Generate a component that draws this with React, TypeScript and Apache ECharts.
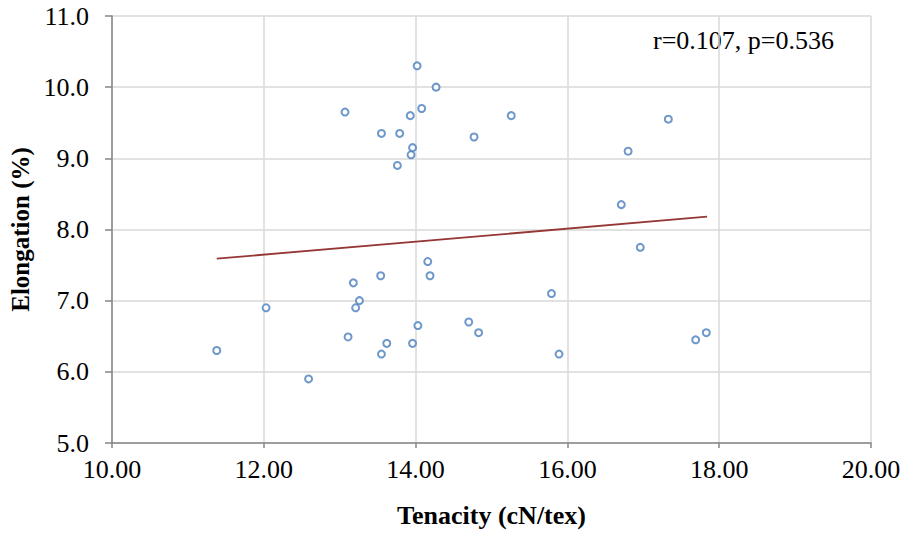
import React, { useEffect, useRef } from "react";
import * as echarts from "echarts";

const tenacity = [11.38, 12.03, 12.59, 13.07, 13.11, 13.18, 13.21, 13.26, 13.55, 13.54, 13.55, 13.62, 13.76, 13.79, 13.93, 13.94, 13.96, 13.96, 14.02, 14.03, 14.08, 14.16, 14.19, 14.27, 14.7, 14.77, 14.83, 15.26, 15.79, 15.89, 16.71, 16.8, 16.96, 17.33, 17.69, 17.83];
const elongation = [6.3, 6.9, 5.9, 9.65, 6.49, 7.25, 6.9, 7.0, 9.35, 7.35, 6.25, 6.4, 8.9, 9.35, 9.6, 9.05, 9.15, 6.4, 10.3, 6.65, 9.7, 7.55, 7.35, 10.0, 6.7, 9.3, 6.55, 9.6, 7.1, 6.25, 8.35, 9.1, 7.75, 9.55, 6.45, 6.55];
const trendX = [11.38, 17.84];
const trendY = [7.59, 8.18];
const annotation = "r=0.107, p=0.536";
const xTitle = "Tenacity (cN/tex)";
const yTitle = "Elongation (%)";

const FONT = '"Liberation Serif", "Times New Roman", serif';

export default function App() {
  const ref = useRef<HTMLDivElement>(null);
  useEffect(() => {
    if (!ref.current) return;
    const chart = echarts.init(ref.current, null, { renderer: "svg" });
    const points = tenacity.map((x, i) => [x, elongation[i]]);
    const trend = trendX.map((x, i) => [x, trendY[i]]);
    chart.setOption({
      animation: false,
      backgroundColor: "#ffffff",
      grid: { left: 112, right: 35, top: 16, bottom: 91, containLabel: false, outerBoundsMode: "none" },
      xAxis: {
        type: "value",
        min: 10,
        max: 20,
        interval: 2,
        name: xTitle,
        nameLocation: "middle",
        nameGap: 59,
        nameTextStyle: { fontFamily: FONT, fontSize: 26, fontWeight: "bold", color: "#000" },
        axisLine: { show: true, lineStyle: { color: "#868686", width: 1.5 } },
        axisTick: { show: true, inside: false, length: 5, lineStyle: { color: "#868686", width: 1.5 } },
        axisLabel: {
          fontFamily: FONT,
          fontSize: 26,
          color: "#000",
          margin: 13,
          formatter: (v: number) => v.toFixed(2),
        },
        splitLine: { show: true, lineStyle: { color: "#d9d9d9", width: 1.5 } },
      },
      yAxis: {
        type: "value",
        min: 5,
        max: 11,
        interval: 1,
        name: yTitle,
        nameLocation: "middle",
        nameGap: 77,
        nameRotate: 90,
        nameTextStyle: { fontFamily: FONT, fontSize: 25, fontWeight: "bold", color: "#000" },
        axisLine: { show: true, lineStyle: { color: "#868686", width: 1.5 } },
        axisTick: { show: true, inside: false, length: 7, lineStyle: { color: "#868686", width: 1.5 } },
        axisLabel: {
          fontFamily: FONT,
          fontSize: 26,
          color: "#000",
          margin: 23,
          formatter: (v: number) => v.toFixed(1),
        },
        splitLine: { show: true, lineStyle: { color: "#d9d9d9", width: 1.5 } },
      },
      series: [
        {
          type: "line",
          data: trend,
          showSymbol: false,
          symbol: "none",
          lineStyle: { color: "#953735", width: 1.8 },
          z: 2,
        },
        {
          type: "scatter",
          data: points,
          symbol: "circle",
          symbolSize: 7,
          itemStyle: { color: "#ffffff", borderColor: "#4a7ebb", borderWidth: 2 },
          z: 3,
        },
      ],
      graphic: [
        {
          type: "text",
          left: 653,
          top: 27,
          style: { text: annotation, fontFamily: FONT, fontSize: 26, fill: "#000" },
        },
      ],
    });
    return () => chart.dispose();
  }, []);
  return (
    <div
      ref={ref}
      style={{ position: "fixed", left: 0, top: 0, width: 906, height: 534, background: "#fff" }}
    />
  );
}
